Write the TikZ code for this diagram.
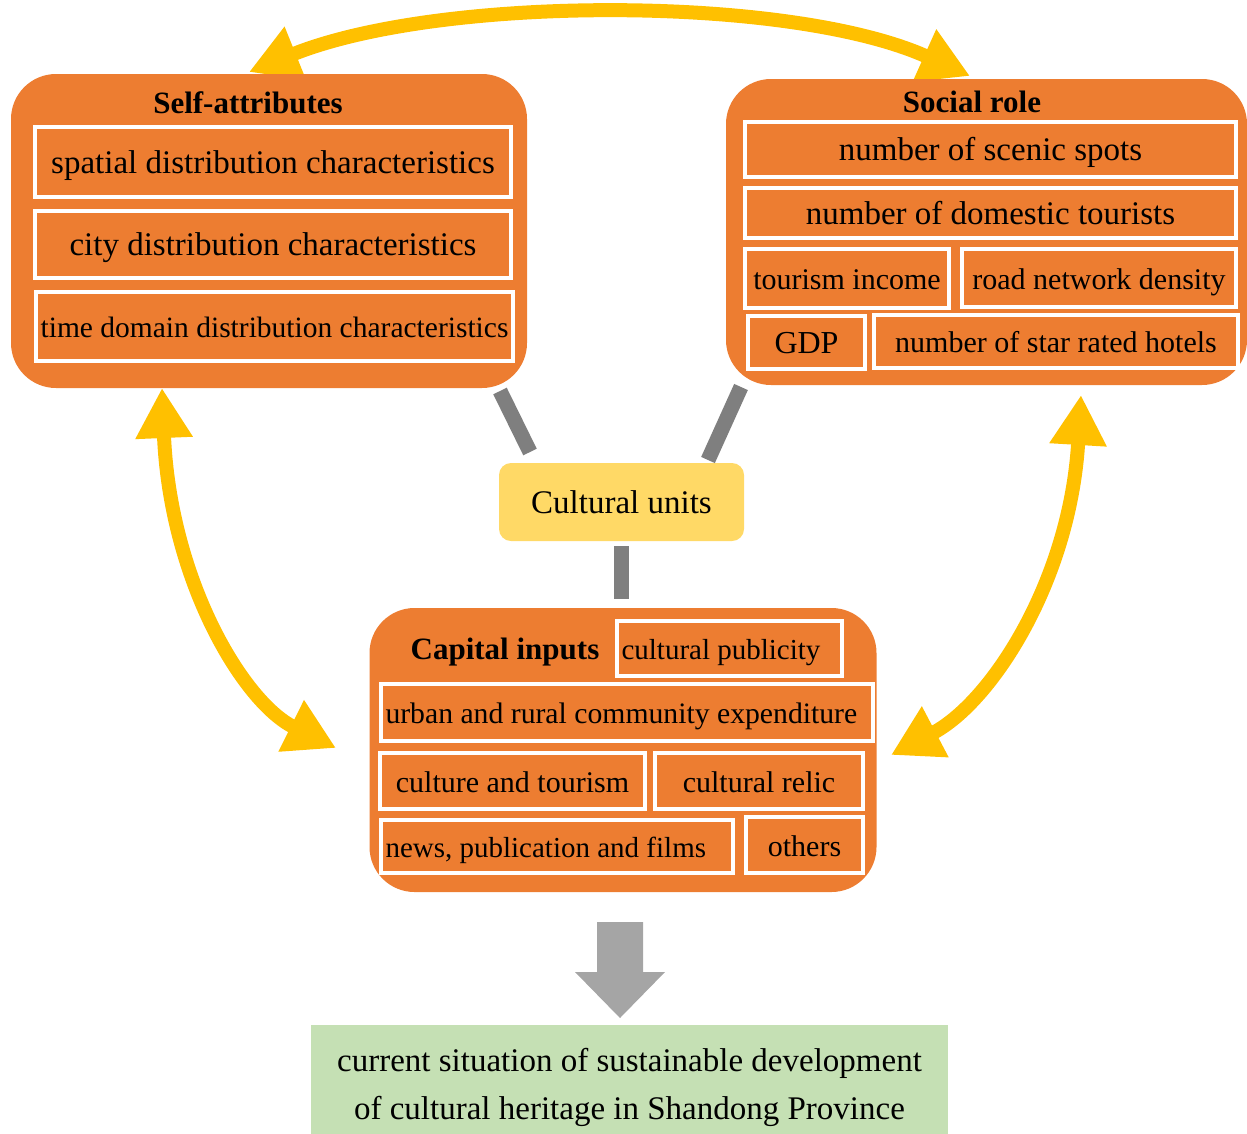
\documentclass[tikz,border=0pt]{standalone}
\usepackage{fontspec}
\setmainfont{Liberation Serif}
\usetikzlibrary{arrows.meta}
\definecolor{org}{HTML}{ED7D31}
\definecolor{yel}{HTML}{FFC000}
\definecolor{cuy}{HTML}{FFD966}
\definecolor{grayA}{HTML}{7F7F7F}
\definecolor{grayB}{HTML}{A5A5A5}
\definecolor{grn}{HTML}{C5E0B4}
\newcommand{\ibx}[7]{\node[ibox, minimum width={(#4-#2)*1pt}, minimum height={(#5-#3)*1pt}, font=\fontsize{#6}{#6}\selectfont] (#1) at ({(#2+#4)/2},{(#3+#5)/2}) {#7};}
\newcommand{\ibl}[7]{\node[ibox, minimum width={(#4-#2)*1pt}, minimum height={(#5-#3)*1pt}, font=\fontsize{#6}{#6}\selectfont] (#1) at ({(#2+#4)/2},{(#3+#5)/2}) {\makebox[\dimexpr #4pt-#2pt-9pt\relax][l]{#7}};}
\begin{document}
\begin{tikzpicture}[x=1pt,y=-1pt,
  obox/.style={fill=org, rounded corners=45pt, inner sep=0pt, outer sep=0pt},
  ibox/.style={draw=white, line width=3.5pt, fill=org, inner sep=0pt, outer sep=0pt, text height=22pt, text depth=0pt},
  ttl/.style={font=\fontsize{31}{31}\selectfont\bfseries, inner sep=0pt},
  yarrow/.style={draw=yel, line width=14pt, {Triangle[length=50pt,width=54pt]}-{Triangle[length=50pt,width=54pt]}},
  gline/.style={draw=grayA, line width=15pt},
]
\useasboundingbox (0,0) rectangle (1247,1133);

% yellow double arrows (drawn below boxes)
\coordinate (ta) at (249,72);
\coordinate (tb) at (970,76);
\coordinate (la) at (162,388);
\coordinate (lb) at (336,748);
\coordinate (ra) at (1081,395);
\coordinate (rb) at (891,755);
\draw[yarrow] (ta) .. controls (440,-5) and (790,-5) .. (tb);
\draw[yarrow] (la) .. controls (170,580) and (243,702) .. (lb);
\draw[yarrow] (ra) .. controls (1070,580) and (992,702) .. (rb);

% Self-attributes
\node[obox, minimum width=516pt, minimum height=314pt] (self) at (269,231) {};
\node[ttl] (selft) at (248,103) {Self-attributes};
\ibx{s1}{35}{127}{511}{197}{33}{spatial distribution characteristics}
\ibx{s2}{35}{211}{511}{278}{33}{city distribution characteristics}
\ibx{s3}{36}{292}{513}{361}{29.5}{time domain distribution characteristics}

% Social role
\node[obox, minimum width=521pt, minimum height=306pt] (social) at (986.5,232) {};
\node[ttl] (socialt) at (972,102) {Social role};
\ibx{r1}{745}{122}{1236}{177}{33}{number of scenic spots}
\ibx{r2}{745}{188}{1236}{238}{33}{number of domestic tourists}
\ibx{r3}{745}{249}{949}{308}{30}{tourism income}
\ibx{r4}{962}{249}{1236}{307}{30}{road network density}
\ibx{r5}{748}{316}{865}{369}{32}{GDP}
\ibx{r6}{874}{315}{1238}{368}{30}{number of star rated hotels}

% Cultural units
\node[fill=cuy, rounded corners=12pt, minimum width=245pt, minimum height=78pt, inner sep=0pt, text height=22pt, text depth=0pt, font=\fontsize{33}{33}\selectfont] (cu) at (621.5,502) {Cultural units};

% grey bars
\coordinate (g1a) at (500,391);
\coordinate (g1b) at (530,452);
\coordinate (g2a) at (741,387);
\coordinate (g2b) at (708,460);
\coordinate (g3a) at (621,546);
\coordinate (g3b) at (621,599);
\draw[gline] (g1a) -- (g1b);
\draw[gline] (g2a) -- (g2b);
\draw[gline] (g3a) -- (g3b);

% Capital inputs
\node[obox, minimum width=507pt, minimum height=284pt] (cap) at (623,750) {};
\node[ttl] (capt) at (505,652) {Capital inputs};
\ibl{c1}{617}{621}{842}{676}{29}{cultural publicity}
\ibl{c2}{381}{684}{873}{741}{29.7}{urban and rural community expenditure}
\ibx{c3}{380}{753}{645}{809}{30}{culture and tourism}
\ibx{c4}{655}{753}{863}{809}{30}{cultural relic}
\ibl{c5}{381}{820}{733}{873}{29}{news, publication and films}
\ibx{c6}{746}{817}{863}{873}{30}{others}

% big grey arrow
\coordinate (ba) at (620,922);
\fill[grayB] (ba) ++(-23,0) -- ++(46,0) -- ++(0,50) -- ++(22,0) -- (620,1018) -- (575,972) -- (597,972) -- cycle;

% result box (extends past the page bottom, which crops it)
\node[fill=grn, minimum width=637pt, minimum height=125pt, inner sep=0pt, align=center, font=\fontsize{33}{48}\selectfont] (res) at (629.5,1087.5) {current situation of sustainable development\\of cultural heritage in Shandong Province};
\end{tikzpicture}
\end{document}
